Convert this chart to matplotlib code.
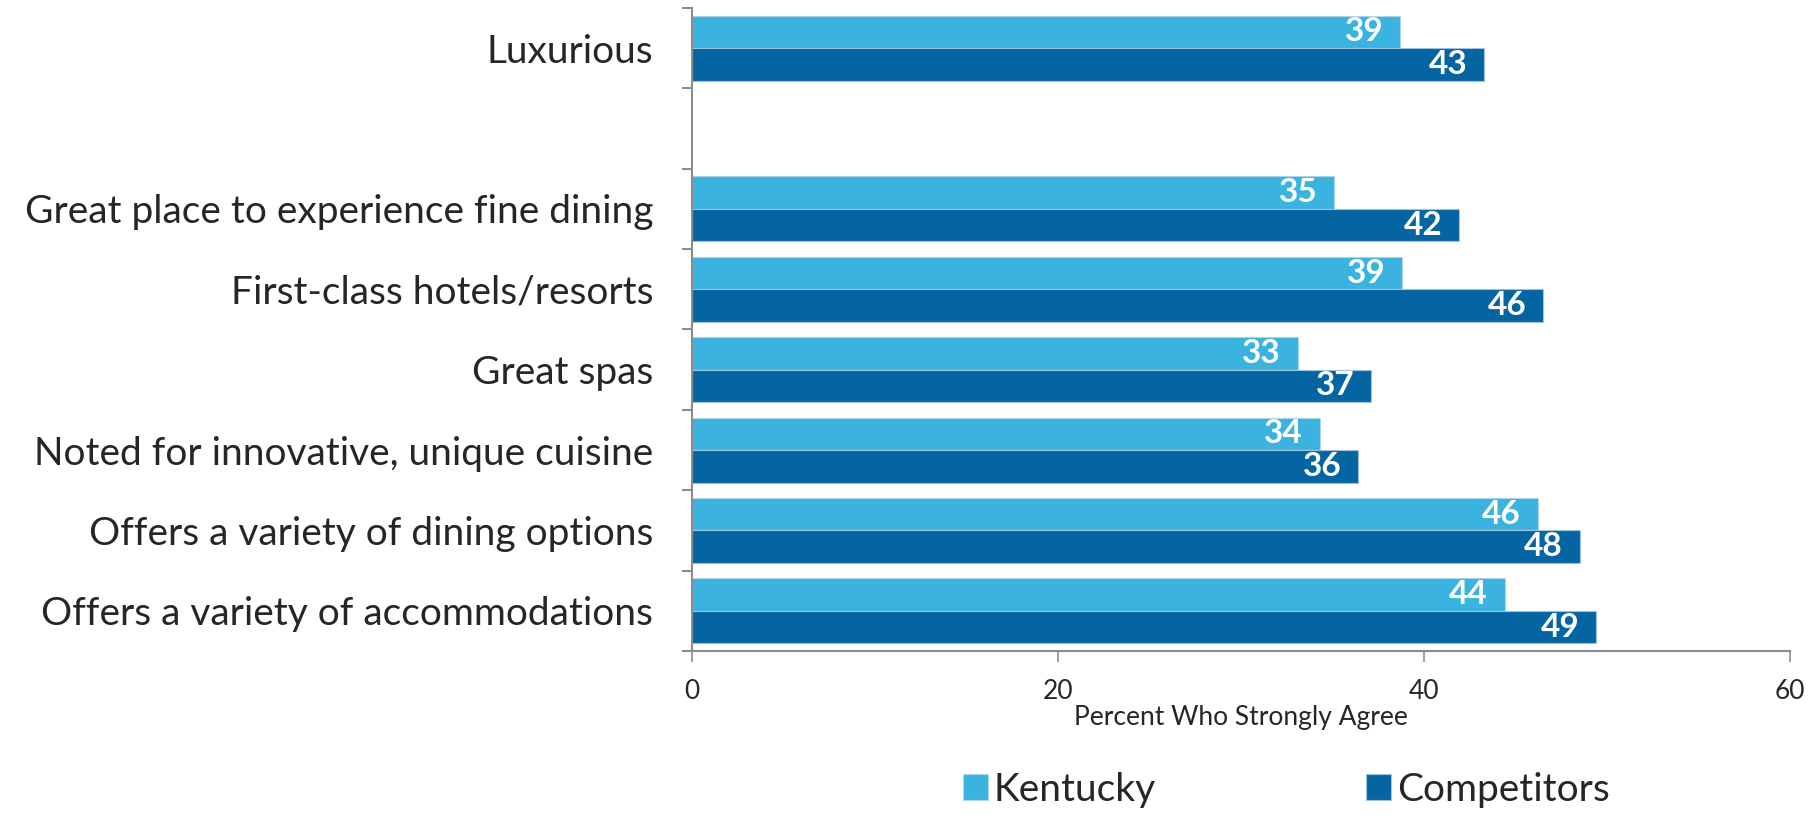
import numpy as np
import matplotlib
matplotlib.use("Agg")
import matplotlib.pyplot as plt

plt.rcParams['font.family'] = ['Lato', 'DejaVu Sans']

categories = ["Luxurious",
              "Great place to experience fine dining",
              "First-class hotels/resorts",
              "Great spas",
              "Noted for innovative, unique cuisine",
              "Offers a variety of dining options",
              "Offers a variety of accommodations"]
kentucky = [38.7, 35.1, 38.8, 33.1, 34.3, 46.2, 44.4]
competitors = [43.3, 41.9, 46.5, 37.1, 36.4, 48.5, 49.4]

light = "#3bb3e0"
dark = "#0565a3"
text_col = "#262626"

fig = plt.figure(figsize=(18.14, 8.4), dpi=100)
ax = fig.add_axes([0.3815, 0.225, 0.6053, 0.7655])

# one empty slot after "Luxurious"
idx = np.arange(len(categories))
pos = idx + (idx >= 1)
h = 0.405

b1 = ax.barh(pos - h / 2, kentucky, height=h, color=light, edgecolor="#a9d6ea",
             linewidth=0.8, label="Kentucky")
b2 = ax.barh(pos + h / 2, competitors, height=h, color=dark, edgecolor="#9fc3dc",
             linewidth=0.8, label="Competitors")

for bars, vals in [(b1, kentucky), (b2, competitors)]:
    for rect, v in zip(bars, vals):
        ax.annotate(f"{round(v)}", (v, rect.get_y() + rect.get_height() / 2),
                    xytext=(-12, 0), textcoords="offset points",
                    ha="right", va="center", color="white",
                    fontsize=24, fontweight="bold")

nslots = pos.max() + 1
ax.set_ylim(nslots - 0.5, -0.5)
ax.set_xlim(0, 60)
ax.set_yticks(np.arange(nslots + 1) - 0.5)
ax.set_yticklabels([])
ax.set_yticks(pos, minor=True)
ax.set_yticklabels(categories, minor=True, fontsize=28, color=text_col)
ax.tick_params(axis="y", which="minor", length=0, pad=28)
ax.tick_params(axis="y", which="major", length=7, width=1.5, color="#8c8c8c")
ax.set_xticks([0, 20, 40, 60])
ax.tick_params(axis="x", length=8, width=1.2, color="#8c8c8c", labelsize=19,
               labelcolor=text_col, pad=12)
ax.set_xlabel("Percent Who Strongly Agree", fontsize=19, color=text_col, labelpad=1)

for s in ["top", "right"]:
    ax.spines[s].set_visible(False)
for s in ["left", "bottom"]:
    ax.spines[s].set_color("#8c8c8c")
    ax.spines[s].set_linewidth(1.5)

fig.legend(handles=[b1, b2], loc="center", bbox_to_anchor=(0.709, 0.06), ncol=2,
           frameon=False, fontsize=28, handlelength=0.65, handleheight=0.65,
           handletextpad=0.15, columnspacing=5.4, labelcolor=text_col)

fig.savefig("out.png", dpi=100)
